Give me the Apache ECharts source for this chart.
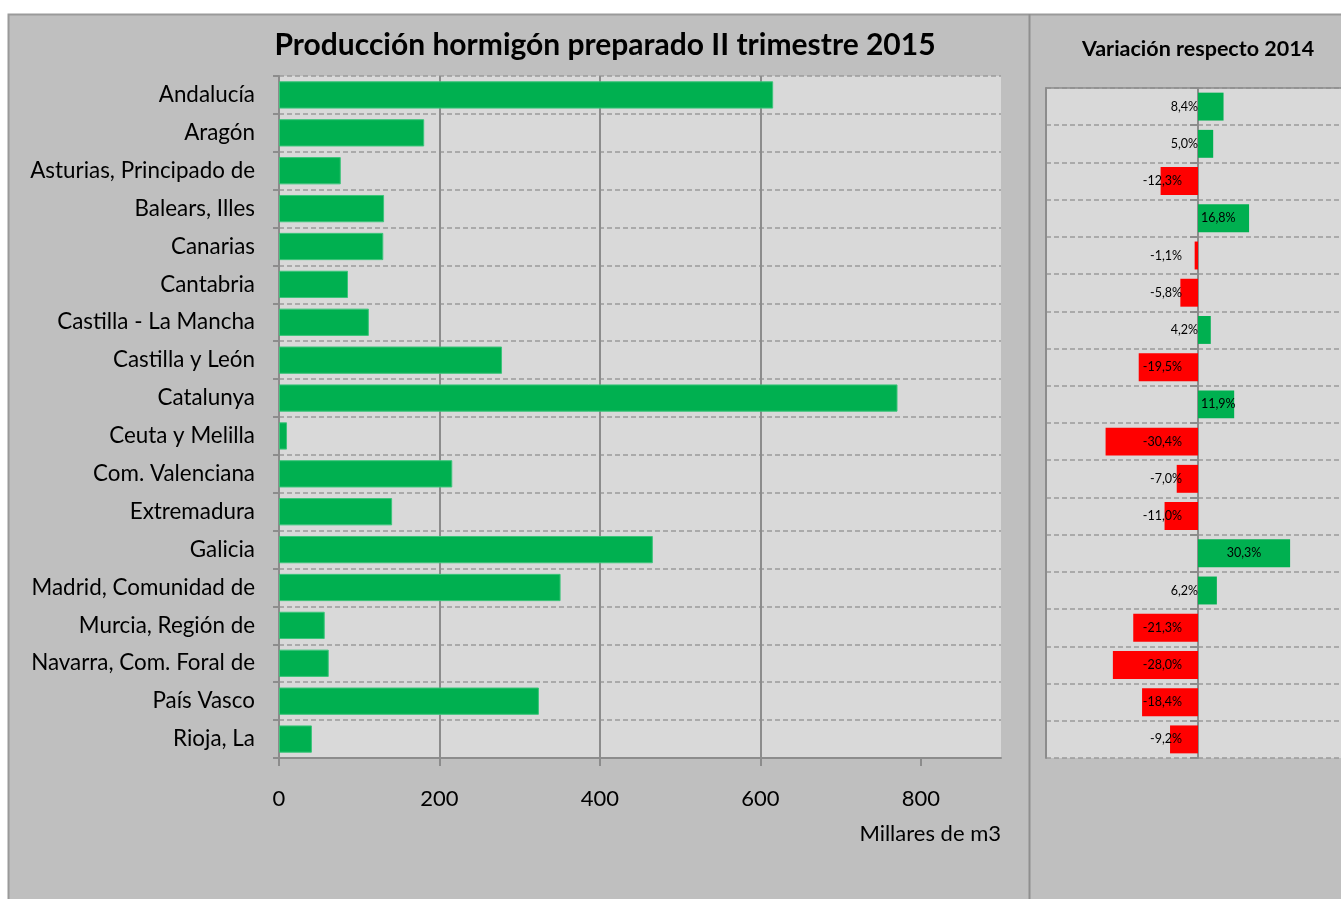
<!DOCTYPE html>
<html>
<head>
<meta charset="utf-8">
<script src="https://cdn.jsdelivr.net/npm/echarts@6/dist/echarts.min.js"></script>
<style>
html,body{margin:0;padding:0;background:#fff;}
#chart{width:1341px;height:899px;}
</style>
</head>
<body>
<div id="chart"></div>
<script>
// ---- data ----
var regions = ['Andalucía','Aragón','Asturias, Principado de','Balears, Illes','Canarias','Cantabria','Castilla - La Mancha','Castilla y León','Catalunya','Ceuta y Melilla','Com. Valenciana','Extremadura','Galicia','Madrid, Comunidad de','Murcia, Región de','Navarra, Com. Foral de','País Vasco','Rioja, La'];
var production = [616, 181, 77, 131, 130, 86, 112, 278, 771, 10, 216, 141, 466, 351, 57, 62, 324, 41];
var variation = [8.4, 5.0, -12.3, 16.8, -1.1, -5.8, 4.2, -19.5, 11.9, -30.4, -7.0, -11.0, 30.3, 6.2, -21.3, -28.0, -18.4, -9.2];
var xTicks = [0, 200, 400, 600, 800];
var mainTitle = 'Producción hormigón preparado II trimestre 2015';
var sideTitle = 'Variación respecto 2014';
var unitLabel = 'Millares de m3';

var FONT = 'Lato';
var GREEN = '#00B050', RED = '#FF0000';
var AXIS = '#8c8c8c', DASH = '#9a9a9a';

function pct(v){ return v.toFixed(1).replace('.', ',') + '%'; }

var varData = variation.map(function(v){
  var lbl;
  if (v < 0) lbl = {position:'insideRight', distance:16};
  else if (v < 10) lbl = {position:'left', distance:0};
  else if (v < 20) lbl = {position:'insideLeft', distance:3};
  else lbl = {position:'inside'};
  return {value:v, itemStyle:{color: v < 0 ? RED : GREEN}, label: lbl};
});

var chart = echarts.init(document.getElementById('chart'));
chart.setOption({
  animation:false,
  backgroundColor:'#ffffff',
  textStyle:{fontFamily:FONT},
  graphic:[
    {type:'rect', z:-10, silent:true, shape:{x:8.5,y:14.5,width:1340,height:890}, style:{fill:'#BFBFBF', stroke:'#9a9a9a', lineWidth:2}},
    {type:'line', z:-9, silent:true, shape:{x1:1029.5,y1:14,x2:1029.5,y2:899}, style:{stroke:'#8f8f8f', lineWidth:2}},
    {type:'text', x:605, y:45, style:{text:mainTitle, font:'bold 30px '+FONT, fill:'#000', textAlign:'center', textVerticalAlign:'middle'}},
    {type:'text', x:1198, y:49, style:{text:sideTitle, font:'bold 21.5px '+FONT, fill:'#000', textAlign:'center', textVerticalAlign:'middle'}},
    {type:'text', x:1001, y:834, style:{text:unitLabel, font:'22px '+FONT, fill:'#000', textAlign:'right', textVerticalAlign:'middle'}}
  ],
  grid:[
    {left:279, top:76, width:722, bottom:141, show:true, backgroundColor:'#D9D9D9', borderWidth:0, containLabel:false, outerBoundsMode:'none'},
    {left:1046, top:88, width:304, bottom:141, show:true, backgroundColor:'#D9D9D9', borderWidth:0, containLabel:false, outerBoundsMode:'none'}
  ],
  xAxis:[
    {gridIndex:0, type:'value', min:0, max:900, interval:200,
     axisLine:{show:true, lineStyle:{color:AXIS, width:2}},
     axisTick:{show:true, length:8, customValues:xTicks, lineStyle:{color:AXIS, width:2}},
     axisLabel:{show:true, customValues:xTicks, fontSize:22, color:'#000', margin:30, fontFamily:FONT},
     splitLine:{show:true, showMinLine:false, showMaxLine:false, lineStyle:{color:AXIS, width:2}}},
    {gridIndex:1, type:'value', min:-50, max:50,
     axisLine:{show:false}, axisTick:{show:false}, axisLabel:{show:false}, splitLine:{show:false}},
    {gridIndex:1, type:'value', position:'top', min:-50, max:50,
     axisLine:{show:true, onZero:false, lineStyle:{color:AXIS, width:1.5}}, axisTick:{show:false}, axisLabel:{show:false}, splitLine:{show:false}}
  ],
  yAxis:[
    {gridIndex:0, type:'category', data:regions, inverse:true,
     axisLine:{show:true, lineStyle:{color:AXIS, width:2}},
     axisTick:{show:true, length:6, lineStyle:{color:AXIS, width:2}},
     axisLabel:{fontSize:22.4, color:'#000', margin:24, fontFamily:FONT},
     splitLine:{show:true, lineStyle:{color:DASH, type:[5,3], width:1.5}}},
    {gridIndex:1, type:'category', data:regions, inverse:true,
     axisLine:{show:true, onZero:true, lineStyle:{color:AXIS, width:2}},
     axisTick:{show:true, length:8, lineStyle:{color:AXIS, width:2}},
     axisLabel:{show:false},
     splitLine:{show:true, lineStyle:{color:DASH, type:[5,3], width:1.5}}},
    {gridIndex:1, type:'category', data:regions, inverse:true, position:'left',
     axisLine:{show:true, onZero:false, lineStyle:{color:AXIS, width:2}},
     axisTick:{show:false}, axisLabel:{show:false}, splitLine:{show:false}}
  ],
  series:[
    {type:'bar', xAxisIndex:0, yAxisIndex:0, data:production, barCategoryGap:'28%',
     itemStyle:{color:GREEN, borderColor:'#3cc47a', borderWidth:1}},
    {type:'bar', xAxisIndex:1, yAxisIndex:1, data:varData, barCategoryGap:'25%',
     label:{show:true, formatter:function(p){return pct(p.value);}, fontSize:12.5, color:'#000', fontFamily:FONT}}
  ]
});
</script>
</body>
</html>
